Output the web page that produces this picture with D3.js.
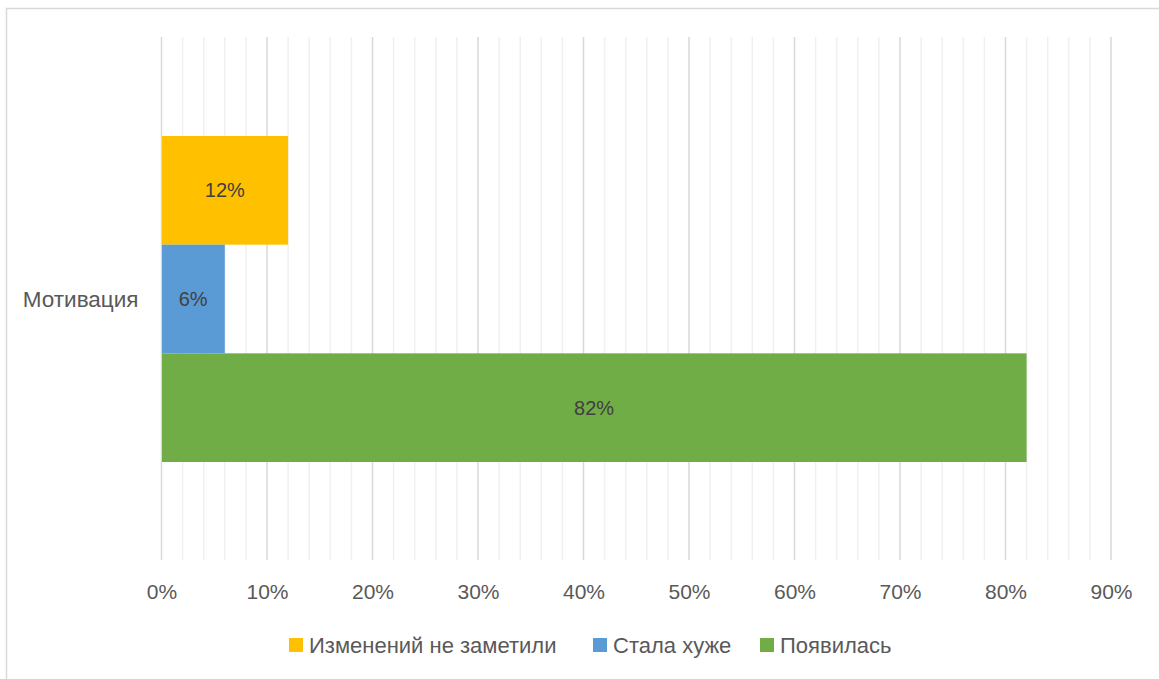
<!DOCTYPE html>
<html>
<head>
<meta charset="utf-8">
<script src="https://cdn.jsdelivr.net/npm/d3@7"></script>
<style>
  html, body { margin: 0; padding: 0; background: #ffffff; }
  svg { display: block; }
  text { font-family: "Liberation Sans", Arial, sans-serif; }
</style>
</head>
<body>
<svg id="chart" width="1159" height="679"></svg>
<script>
// Survey answers for one category, as shares
const categories = ["Мотивация"];
const seriesNames = ["Изменений не заметили", "Стала хуже", "Появилась"];
const seriesValues = [0.12, 0.06, 0.82];
const seriesColors = ["#FFC000", "#5B9BD5", "#70AD47"];
const tickValues = [0, 0.1, 0.2, 0.3, 0.4, 0.5, 0.6, 0.7, 0.8, 0.9];

const svg = d3.select("#chart");

// chart frame
svg.append("rect")
  .attr("x", 6.5).attr("y", 8.5)
  .attr("width", 1170).attr("height", 690)
  .attr("fill", "#fff").attr("stroke", "#d9d9d9").attr("stroke-width", 1.5);

const plot = { left: 161.5, right: 1111, top: 37, bottom: 560 };

const x = d3.scaleLinear().domain([0, 0.9]).range([plot.left, plot.right]);
const yCat = d3.scaleBand().domain(categories).range([plot.top, plot.bottom]);
const ySer = d3.scaleBand().domain(seriesNames)
  .range([136, 462]).paddingInner(0);

// minor gridlines every 2%
const minor = d3.range(0, 0.9001, 0.02).filter(v => Math.abs(Math.round(v * 10) - v * 10) > 1e-6);
svg.append("g").selectAll("line").data(minor).join("line")
  .attr("x1", d => x(d)).attr("x2", d => x(d))
  .attr("y1", plot.top).attr("y2", plot.bottom)
  .attr("stroke", "#f0f0f0").attr("stroke-width", 1.5);

// major gridlines every 10%
svg.append("g").selectAll("line").data(tickValues).join("line")
  .attr("x1", d => x(d)).attr("x2", d => x(d))
  .attr("y1", plot.top).attr("y2", plot.bottom)
  .attr("stroke", "#d9d9d9").attr("stroke-width", 1.5);

// bars
const rows = seriesNames.map((n, i) => ({ name: n, value: seriesValues[i], color: seriesColors[i] }));
svg.append("g").selectAll("rect").data(rows).join("rect")
  .attr("x", x(0) + 0.5)
  .attr("y", d => ySer(d.name))
  .attr("width", d => x(d.value) - x(0) - 0.5)
  .attr("height", ySer.bandwidth())
  .attr("fill", d => d.color);

// value labels
svg.append("g").selectAll("text").data(rows).join("text")
  .attr("x", d => (x(0) + x(d.value)) / 2)
  .attr("y", d => ySer(d.name) + ySer.bandwidth() / 2)
  .attr("dy", "0.35em")
  .attr("text-anchor", "middle")
  .attr("font-size", 20)
  .attr("fill", "#404040")
  .text(d => d3.format(".0%")(d.value));

// x axis labels
const xAxis = d3.axisBottom(x).tickValues(tickValues).tickFormat(d3.format(".0%")).tickSize(0).tickPadding(0);
const gx = svg.append("g").attr("transform", `translate(0, ${592})`).call(xAxis);
gx.select(".domain").remove();
gx.selectAll("text").attr("font-size", 21).attr("fill", "#595959")
  .attr("font-family", "Liberation Sans, Arial, sans-serif").attr("dy", "0.35em").attr("y", 0);

// category label
const yAxis = d3.axisLeft(yCat).tickSize(0).tickPadding(23);
const gy = svg.append("g").attr("transform", `translate(${plot.left}, 0)`).call(yAxis);
gy.select(".domain").remove();
gy.selectAll("text").attr("font-size", 22.5).attr("fill", "#595959")
  .attr("font-family", "Liberation Sans, Arial, sans-serif").attr("y", 1);

// legend
const legendX = [289, 593, 760];
const legend = svg.append("g").selectAll("g").data(rows).join("g")
  .attr("transform", (d, i) => `translate(${legendX[i]}, 638)`);
legend.append("rect").attr("width", 14).attr("height", 14).attr("fill", d => d.color);
legend.append("text").attr("x", 20).attr("y", 7).attr("dy", "0.35em")
  .attr("font-size", 22).attr("fill", "#595959").text(d => d.name);
</script>
</body>
</html>
